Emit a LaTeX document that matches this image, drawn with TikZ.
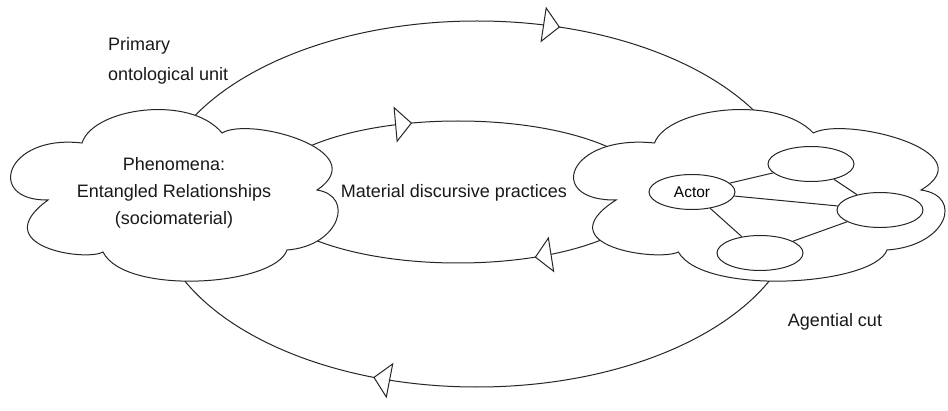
\documentclass[tikz,border=0pt]{standalone}
\usepackage{fontspec}
\setmainfont{Liberation Sans}
\usetikzlibrary{arrows.meta,decorations.markings,shapes.geometric}

\tikzset{
  ink/.style={draw=black!85, line width=1pt},
  % open triangles placed on a loop at two positions (ascending order)
  flow/.style 2 args={
    postaction={decorate},
    decoration={markings,
      mark=at position #1 with {\arrow{Triangle[length=17pt,width=36pt,fill=white]}},
      mark=at position #2 with {\arrow{Triangle[length=17pt,width=36pt,fill=white]}}}},
  label/.style={font=\fontsize{18}{27}\selectfont, text=black!90, inner sep=0pt},
  member/.style={ink, shape=ellipse, fill=white, minimum width=86pt,
    minimum height=35pt, inner sep=0pt, font=\fontsize{15.5}{18}\selectfont},
  % puffy cloud outline, centred on the pic origin
  blob/.pic={
    \draw[ink, fill=white] (-93,53)
      .. controls (-82,88) and (15,102) .. (47,63)
      .. controls (75,80) and (200,45) .. (142,6)
      .. controls (180,0) and (165,-50) .. (112,-54)
      .. controls (100,-90) and (-50,-100) .. (-72,-56)
      .. controls (-90,-66) and (-190,-50) .. (-127,-4)
      .. controls (-190,-5) and (-170,62) .. (-93,53)
      -- cycle;
  }
}

\begin{document}
\begin{tikzpicture}[x=1pt,y=1pt]
  \fill[white] (0,0) rectangle (948,410);
  \useasboundingbox (0,0) rectangle (948,410);

  % outer and inner loops, both running clockwise
  \path[ink, flow={0.3145}{0.8015}]
    (799,206) arc[start angle=0, end angle=-360, x radius=322, y radius=183];
  \path[ink, flow={0.1623}{0.6976}]
    (652,218) arc[start angle=0, end angle=-360, x radius=194, y radius=71];

  % the two clouds
  \pic at (175,214) {blob};
  \pic[xscale=1.134] at (760,214) {blob};

  % texts
  \node[label, align=center] (phen) at (174,217)
    {Phenomena:\\Entangled Relationships\\(sociomaterial)};
  \node[label] (mdp) at (454,217) {Material discursive practices};
  \node[label, align=left, anchor=west, font=\fontsize{18}{30}\selectfont]
    (unit) at (108,349) {Primary\\ontological unit};
  \node[label] (cut) at (835,88) {Agential cut};

  % actor network inside the right cloud
  \node[member] (actor) at (692,218) {Actor};
  \node[member] (n1) at (811,246) {};
  \node[member] (n2) at (880,200) {};
  \node[member] (n3) at (760,157) {};
  \draw[ink] (actor) -- (n1);
  \draw[ink] (actor) -- (n2);
  \draw[ink] (actor) -- (n3);
  \draw[ink] (n1) -- (n2);
  \draw[ink] (n3) -- (n2);
\end{tikzpicture}
\end{document}
